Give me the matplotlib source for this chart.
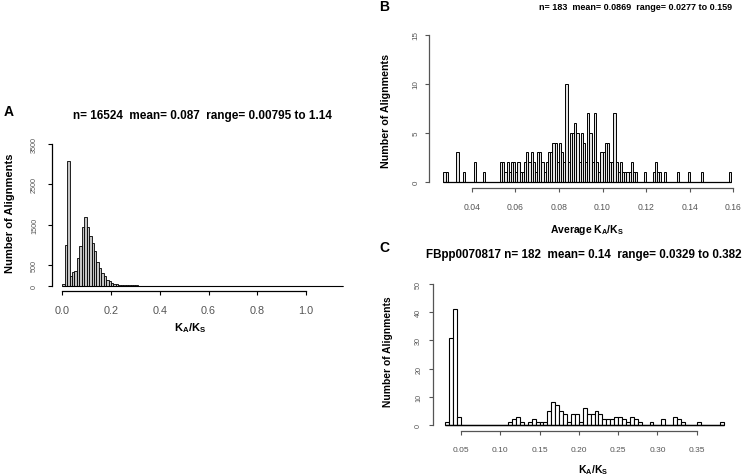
import numpy as np
import matplotlib
matplotlib.use("Agg")
import matplotlib.pyplot as plt

plt.rcParams['font.family'] = ['Liberation Sans', 'DejaVu Sans']
plt.rcParams['mathtext.fontset'] = 'custom'
plt.rcParams['mathtext.rm'] = 'Liberation Sans'
plt.rcParams['mathtext.bf'] = 'Liberation Sans:bold'

# ---- data -------------------------------------------------------------
# Panel A: all alignments, bins of 0.01 from 0.00 to 1.15
a_start, a_width = 0.0, 0.01
a_counts = [30, 1010, 3070, 250, 350, 355, 690, 970, 1450, 1700,
            1450, 1220, 1050, 850, 580, 440, 310, 230, 150, 110,
            70, 45, 32, 24, 18, 14, 11, 9, 7, 6,
            5, 4, 4, 3, 3, 2, 2, 2, 1, 1,
            1, 1, 0, 1, 0, 1, 0, 1, 0, 1,
            0, 0, 0, 0, 0, 0, 1, 1, 0, 0,
            0, 0, 1, 0, 0, 0, 0, 0, 0, 0,
            0, 1, 0, 0, 0, 0, 0, 0, 0, 0,
            0, 0, 0, 0, 0, 1, 0, 0, 0, 0,
            0, 0, 0, 0, 0, 0, 0, 0, 0, 0,
            0, 0, 0, 0, 0, 0, 0, 0, 0, 0,
            0, 0, 0, 0, 1]

# Panel B: average per protein, bins of 0.001 from 0.027 to 0.159
b_start, b_width = 0.027, 0.001
b_counts = [1, 1, 0, 0, 0, 0, 3, 0, 0, 1,
            0, 0, 0, 0, 2, 0, 0, 0, 1, 0,
            0, 0, 0, 0, 0, 0,
            2, 2, 1, 2, 1, 2, 2, 1, 2, 1,
            1, 2, 3, 2, 3, 2, 1, 3, 3, 2,
            1, 2, 3, 3, 4, 4, 2, 4, 3, 2,
            10, 2, 5, 5, 6, 5, 2, 5, 4, 2,
            7, 5, 2, 7, 2, 1, 3, 3, 4, 4,
            2, 2, 7,
            2, 1, 2, 1, 1, 1, 1, 2, 1, 1,
            0, 0, 0, 1, 0, 0, 0, 1, 2, 1,
            1, 0, 1, 0, 0, 0, 0, 0, 1, 0,
            0, 0, 0, 1, 0, 0, 0, 0, 0, 1,
            0, 0, 0, 0, 0, 0, 0, 0, 0, 0,
            0, 0, 1]

# Panel C: FBpp0070817, bins of 0.005 from 0.030 to 0.385
c_start, c_width = 0.030, 0.005
c_counts = [1, 31, 41, 3, 0, 0, 0, 0, 0, 0,
            0, 0, 0, 0, 0, 0, 1, 2, 3, 1,
            0, 1, 2, 1, 1, 1, 5, 8, 7, 5,
            4, 1, 4, 4, 1, 6, 4, 4, 5, 4,
            2, 2, 2, 3, 3, 2, 1, 3, 2, 1,
            0, 0, 1, 0, 0, 2, 0, 0, 3, 2,
            1, 0, 0, 0, 1, 0, 0, 0, 0, 0,
            1]

a_xticks = [0.0, 0.2, 0.4, 0.6, 0.8, 1.0]
a_xlabels = ['0.0', '0.2', '0.4', '0.6', '0.8', '1.0']
a_yticks = [0, 500, 1500, 2500, 3500]
b_xticks = [0.04, 0.06, 0.08, 0.10, 0.12, 0.14, 0.16]
b_xlabels = ['0.04', '0.06', '0.08', '0.10', '0.12', '0.14', '0.16']
b_yticks = [0, 5, 10, 15]
c_xticks = [0.05, 0.10, 0.15, 0.20, 0.25, 0.30, 0.35]
c_xlabels = ['0.05', '0.10', '0.15', '0.20', '0.25', '0.30', '0.35']
c_yticks = [0, 10, 20, 30, 40, 50]

# ---- figure -----------------------------------------------------------
W, H = 748, 477
fig = plt.figure(figsize=(W / 100, H / 100), dpi=100)


def px_axes(left, top, right, bottom):
    return fig.add_axes([left / W, 1 - bottom / H, (right - left) / W, (bottom - top) / H])


def hist_panel(ax, start, width, counts, face, lw):
    edges = start + width * np.arange(len(counts))
    ax.bar(edges, counts, width=width, align='edge', facecolor=face,
           edgecolor='black', linewidth=lw, clip_on=False)
    # R draws the empty bins as a flat line along zero
    ax.hlines(0, edges[0], edges[-1] + width, color='black',
              linewidth=lw + 0.2, clip_on=False)


def r_axes(ax, xb, yb, xticks, xlabels, yticks, offset, spine_col,
           xsize, ysize, xpad, ypad):
    for s in ['top', 'right']:
        ax.spines[s].set_visible(False)
    ax.spines['bottom'].set_position(('outward', offset))
    ax.spines['bottom'].set_bounds(*xb)
    ax.spines['left'].set_bounds(*yb)
    for s in ['bottom', 'left']:
        ax.spines[s].set_color(spine_col)
        ax.spines[s].set_linewidth(0.9)
    ax.set_xticks(xticks)
    ax.set_xticklabels(xlabels)
    ax.set_yticks(yticks)
    ax.tick_params(axis='both', direction='out', length=3, width=0.8,
                   color=spine_col, labelcolor='#555555')
    ax.tick_params(axis='x', labelsize=xsize, pad=xpad)
    ax.tick_params(axis='y', labelsize=ysize, pad=ypad, labelrotation=90)
    for lab in ax.get_yticklabels():
        lab.set_verticalalignment('center')


# Panel A
axA = px_axes(52, 140, 345, 286.7)
hist_panel(axA, a_start, a_width, a_counts, '#c4c4c4', 0.6)
axA.set_xlim(-0.0423, 1.160)
axA.set_ylim(0, 3623)
r_axes(axA, (0, 1.0), (0, 3500), a_xticks, a_xlabels, a_yticks, 3.8, 'black',
       7.8, 5.2, 7, 7)

# Panel B
axB = px_axes(429, 30, 740, 182.7)
hist_panel(axB, b_start, b_width, b_counts, '#e4e4e4', 0.7)
axB.set_xlim(0.02041, 0.16307)
axB.set_ylim(0, 15.61)
r_axes(axB, (0.04, 0.16), (0, 15), b_xticks, b_xlabels, b_yticks, 4.75, '#555555',
       6.2, 5.8, 7, 4)

# Panel C
axC = px_axes(433.3, 280, 740, 426)
hist_panel(axC, c_start, c_width, c_counts, 'white', 0.8)
axC.set_xlim(0.01475, 0.4051)
axC.set_ylim(0, 51.8)
r_axes(axC, (0.05, 0.35), (0, 50), c_xticks, c_xlabels, c_yticks, 4.1, '#555555',
       6.0, 5.2, 8, 5)

# ---- texts -------------------------------------------------------------
def ftext(x, y, s, **kw):
    fig.text(x / W, 1 - y / H, s, **kw)


kl = r'$\mathbf{K_A/K_S}$'
ftext(9, 112, 'A', fontsize=10, fontweight='bold', ha='center', va='center')
ftext(384, 7, 'B', fontsize=10, fontweight='bold', ha='center', va='center')
ftext(384, 248, 'C', fontsize=10, fontweight='bold', ha='center', va='center')

ftext(202, 116, 'n= 16524  mean= 0.087  range= 0.00795 to 1.14',
      fontsize=8.5, fontweight='bold', ha='center', va='center')
ftext(636, 7, 'n= 183  mean= 0.0869  range= 0.0277 to 0.159',
      fontsize=6.5, fontweight='bold', ha='center', va='center')
ftext(584, 255, 'FBpp0070817 n= 182  mean= 0.14  range= 0.0329 to 0.382',
      fontsize=8.4, fontweight='bold', ha='center', va='center')

ftext(10, 213, 'Number of Alignments', fontsize=8, fontweight='bold',
      rotation=90, ha='center', va='center')
ftext(386, 111, 'Number of Alignments', fontsize=7.7, fontweight='bold',
      rotation=90, ha='center', va='center')
ftext(388, 352, 'Number of Alignments', fontsize=7.4, fontweight='bold',
      rotation=90, ha='center', va='center')

ftext(190, 328, kl, fontsize=8, ha='center', va='center')
ftext(587, 230, 'Average ' + kl, fontsize=7.5, fontweight='bold',
      ha='center', va='center')
ftext(593, 470, kl, fontsize=7.5, ha='center', va='center')

fig.savefig('out.png', dpi=100)
